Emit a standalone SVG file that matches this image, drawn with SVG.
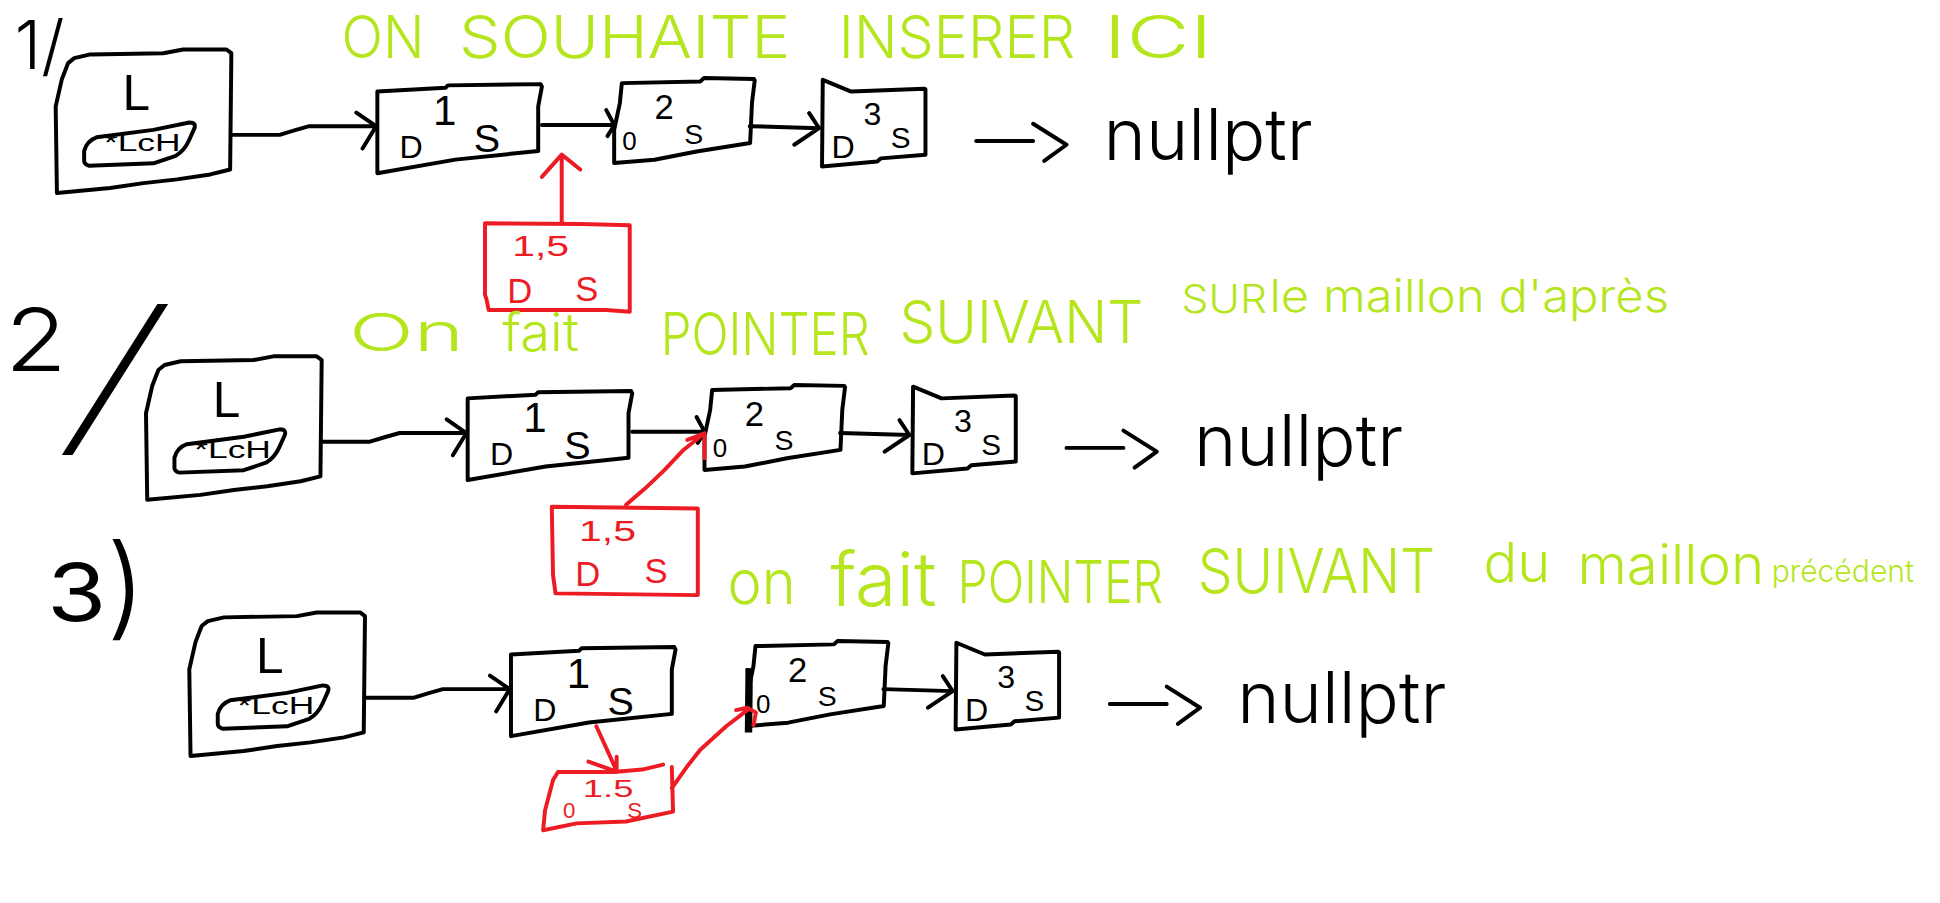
<svg xmlns="http://www.w3.org/2000/svg" width="1940" height="903" viewBox="0 0 1940 903">
<style>
.k{fill:none;stroke:#000;stroke-width:3.2;stroke-linecap:round;stroke-linejoin:round}
.r{fill:none;stroke:#ed1c24;stroke-width:3.2;stroke-linecap:round;stroke-linejoin:round}
.t{font-family:"Liberation Sans",Arial,sans-serif;fill:#000}
.h{font-family:Inter,"Liberation Sans",sans-serif;font-weight:300;fill:#000}
.rt{font-family:"Liberation Sans",Arial,sans-serif;fill:#ed1c24}
.g{font-family:Inter,"Liberation Sans",sans-serif;font-weight:300;fill:#b5e61d}
</style>
<defs>
<path id="lbox" d="M133,295 L146,292 L205,291 L221,288 L256,288 L260,291 L259,385 L243,389 L216,393 L189,396 L162,400 L119,404 L118,334 L123,312 L128,299 Z"/>
<path id="blob" d="M151,359 L197,353 L226,347 Q232,347 230,352 L226,361 Q222,370 215,374 L197,380 L145,382 Q141,381 141,378 L141,370 Q143,362 151,359 Z"/>
<path id="n1" d="M378,322 L433,319 L435,317 L510,316 L511,318 L508,334 L508,370 L441,377 L378,388 Z"/>
<path id="n2" d="M575.6,315.2 L639,313.8 L642,311.1 L682.4,311.9 L683,313 L680.8,331 L679.3,363.6 L636,370.4 L602,377.1 L569.4,379.8 L569.4,352.9 L574,331.3 Z"/>
<path id="n3" d="M738,312.5 L761,322 L820,319.7 L821,320 L821,373 L785,376 L782,378.6 L737.4,382.6 Z"/>
</defs>
<rect width="1940" height="903" fill="#fff"/>
<g transform="scale(1.23724)">

<g id="section1" transform="translate(-73,-248)">
 <g id="s1-list"><use href="#lbox" class="k"/><use href="#blob" class="k"/>
  <text class="t" x="172" y="337" font-size="40">L</text>
  <text class="t" x="157" y="370" font-size="20" textLength="62" lengthAdjust="spacingAndGlyphs">*LcH</text></g>
 <g id="s1-n1"><use href="#n1" class="k"/>
  <text class="t" x="423" y="349" font-size="34">1</text><text class="t" x="396" y="376" font-size="26">D</text><text class="t" x="456" y="371" font-size="32">S</text></g>
 <g id="s1-n2"><use href="#n2" class="k"/>
  <text class="t" x="602" y="344" font-size="28">2</text><text class="t" x="576" y="369" font-size="21">0</text><text class="t" x="626" y="364" font-size="23">S</text></g>
 <g id="s1-n3"><use href="#n3" class="k"/>
  <text class="t" x="771" y="349" font-size="26">3</text><text class="t" x="745" y="376" font-size="26">D</text><text class="t" x="793" y="368" font-size="24">S</text></g>
 <g id="s1-null"><text class="h" x="965" y="377" font-size="58" textLength="169" lengthAdjust="spacingAndGlyphs">nullptr</text></g>
 <g id="s1-connectors">
  <path class="k" d="M261,357 L299,357 Q312,353 323,350 L377,350 M361,339 L377,350 L366,368"/>
  <path class="k" d="M511,349 L569,349 M563,337 L569.5,349 L564,358"/>
  <path class="k" d="M679,350 L735,351.6 M727,339.5 L735,351.6 L715,365"/>
  <path class="k" d="M862,362 L908,362 M908,348 L935,365 L917,378"/>
 </g>
</g>

<g id="section2">
 <g id="s2-list"><use href="#lbox" class="k"/><use href="#blob" class="k"/>
  <text class="t" x="172" y="337" font-size="40">L</text>
  <text class="t" x="157" y="370" font-size="20" textLength="62" lengthAdjust="spacingAndGlyphs">*LcH</text></g>
 <g id="s2-n1"><use href="#n1" class="k"/>
  <text class="t" x="423" y="349" font-size="34">1</text><text class="t" x="396" y="376" font-size="26">D</text><text class="t" x="456" y="371" font-size="32">S</text></g>
 <g id="s2-n2"><use href="#n2" class="k"/>
  <text class="t" x="602" y="344" font-size="28">2</text><text class="t" x="576" y="369" font-size="21">0</text><text class="t" x="626" y="364" font-size="23">S</text></g>
 <g id="s2-n3"><use href="#n3" class="k"/>
  <text class="t" x="771" y="349" font-size="26">3</text><text class="t" x="745" y="376" font-size="26">D</text><text class="t" x="793" y="368" font-size="24">S</text></g>
 <g id="s2-null"><text class="h" x="965" y="377" font-size="58" textLength="169" lengthAdjust="spacingAndGlyphs">nullptr</text></g>
 <g id="s2-connectors">
  <path class="k" d="M261,357 L299,357 Q312,353 323,350 L377,350 M361,339 L377,350 L366,368"/>
  <path class="k" d="M511,349 L569,349 M563,337 L569.5,349 L564,358"/>
  <path class="k" d="M679,350 L735,351.6 M727,339.5 L735,351.6 L715,365"/>
  <path class="k" d="M862,362 L908,362 M908,348 L935,365 L917,378"/>
 </g>
</g>

<g id="section3" transform="translate(35,207)">
 <g id="s3-list"><use href="#lbox" class="k"/><use href="#blob" class="k"/>
  <text class="t" x="172" y="337" font-size="40">L</text>
  <text class="t" x="157" y="370" font-size="20" textLength="62" lengthAdjust="spacingAndGlyphs">*LcH</text></g>
 <g id="s3-n1"><use href="#n1" class="k"/>
  <text class="t" x="423" y="349" font-size="34">1</text><text class="t" x="396" y="376" font-size="26">D</text><text class="t" x="456" y="371" font-size="32">S</text></g>
 <g id="s3-n2"><use href="#n2" class="k"/><path d="M570.5,333 L570,385" stroke="#000" stroke-width="6" fill="none"/>
  <text class="t" x="602" y="344" font-size="28">2</text><text class="t" x="576" y="369" font-size="21">0</text><text class="t" x="626" y="364" font-size="23">S</text></g>
 <g id="s3-n3"><use href="#n3" class="k"/>
  <text class="t" x="771" y="349" font-size="26">3</text><text class="t" x="745" y="376" font-size="26">D</text><text class="t" x="793" y="368" font-size="24">S</text></g>
 <g id="s3-null"><text class="h" x="965" y="377" font-size="58" textLength="169" lengthAdjust="spacingAndGlyphs">nullptr</text></g>
 <g id="s3-connectors">
  <path class="k" d="M261,357 L299,357 Q312,353 323,350 L377,350 M361,339 L377,350 L366,368"/>
  <path class="k" d="M679,350 L735,351.6 M727,339.5 L735,351.6 L715,365"/>
  <path class="k" d="M862,362 L908,362 M908,348 L935,365 L917,378"/>
 </g>
</g>

<g id="s1-new"><path class="r" d="M392,180.5 L469,181 L509,182 L509,252 L490,250.6 L395,250.6 L393,241 L392,238.5 Z"/>
 <text class="rt" x="414" y="207" font-size="24" textLength="46" lengthAdjust="spacingAndGlyphs">1,5</text>
 <text class="rt" x="410" y="245" font-size="28">D</text><text class="rt" x="465" y="243" font-size="28">S</text></g>
<g id="s2-new"><path class="r" d="M446,409.5 L564,411 L564,481 L449,479.6 L447,465 L446,411 Z"/>
 <text class="rt" x="468" y="437" font-size="24" textLength="46" lengthAdjust="spacingAndGlyphs">1,5</text>
 <text class="rt" x="465" y="474" font-size="28">D</text><text class="rt" x="521" y="471" font-size="28">S</text></g>
<g id="s3-new"><path class="r" d="M451,624 L496,624 L519,622 L536,618 M543,620 L544,656 L506,664 L466,665.5 L439,671 L440.5,655 L447,630.5 L451,624"/>
 <text class="rt" x="455" y="661" font-size="18">0</text>
 <text class="rt" x="471" y="644" font-size="20" textLength="41" lengthAdjust="spacingAndGlyphs">1.5</text>
 <text class="rt" x="507" y="661" font-size="18">S</text></g>
<g id="red-connectors">
 <path class="r" d="M454,181 L454,126 M438,143 L454,125 L469,137"/>
 <path class="r" d="M506,408 L521.5,394.7 L537,380 L552.4,363.7 L569.4,350.2 M555.5,355.6 L569.4,350.2 L569.4,370.4"/>
 <path class="r" d="M482,587 L497,620 M475.6,615.6 L498.4,623.7 L498.4,611.6"/>
 <path class="r" d="M543,637 L555,620 L566,606 L587,587 L604,574 M595,574 L604,572 L611,576 L609,586"/>
</g>

<g id="step-labels">
 <text class="h" x="12" y="56" font-size="54" font-weight="400">1/</text>
 <text class="h" x="4" y="300" font-size="70" font-weight="400" textLength="50" lengthAdjust="spacingAndGlyphs">2</text>
 <text class="h" transform="translate(52,352) skewX(-20)" x="0" y="0" font-size="140" font-weight="200">/</text>
 <text class="h" x="38" y="502"><tspan font-size="64" font-weight="400" textLength="48" lengthAdjust="spacingAndGlyphs">3</tspan><tspan font-size="90" dy="3">)</tspan></text>
</g>

<g id="notes">
 <text class="g" x="276" y="47" font-size="48" textLength="67" lengthAdjust="spacingAndGlyphs">ON</text>
 <text class="g" x="371" y="47" font-size="48" textLength="268" lengthAdjust="spacingAndGlyphs">SOUHAITE</text>
 <text class="g" x="678" y="47" font-size="48" textLength="191" lengthAdjust="spacingAndGlyphs">INSERER</text>
 <text class="g" x="892" y="47" font-size="48" textLength="88" lengthAdjust="spacingAndGlyphs">ICI</text>

 <text class="g" x="282" y="284" font-size="42" textLength="93" lengthAdjust="spacingAndGlyphs">On</text>
 <text class="g" x="406" y="284" font-size="42" textLength="62" lengthAdjust="spacingAndGlyphs">fait</text>
 <text class="g" x="534" y="287" font-size="48" textLength="169" lengthAdjust="spacingAndGlyphs">POINTER</text>
 <text class="g" x="727" y="277" font-size="48" textLength="197" lengthAdjust="spacingAndGlyphs">SUIVANT</text>
 <text class="g" x="955" y="253" font-size="32" textLength="69" lengthAdjust="spacingAndGlyphs">SUR</text>
 <text class="g" x="1026" y="252" font-size="36" textLength="323" lengthAdjust="spacingAndGlyphs">le maillon d'après</text>

 <text class="g" x="588" y="488" font-size="50" textLength="55" lengthAdjust="spacingAndGlyphs">on</text>
 <text class="g" x="671" y="490" font-size="60" textLength="86" lengthAdjust="spacingAndGlyphs">fait</text>
 <text class="g" x="774" y="487" font-size="48" textLength="166" lengthAdjust="spacingAndGlyphs">POINTER</text>
 <text class="g" x="968" y="479" font-size="50" textLength="192" lengthAdjust="spacingAndGlyphs">SUIVANT</text>
 <text class="g" x="1199" y="470" font-size="44" textLength="54" lengthAdjust="spacingAndGlyphs">du</text>
 <text class="g" x="1275" y="472" font-size="44" textLength="151" lengthAdjust="spacingAndGlyphs">maillon</text>
 <text class="g" x="1432" y="470" font-size="25" textLength="115" lengthAdjust="spacingAndGlyphs">précédent</text>
</g>
</g>
</svg>
